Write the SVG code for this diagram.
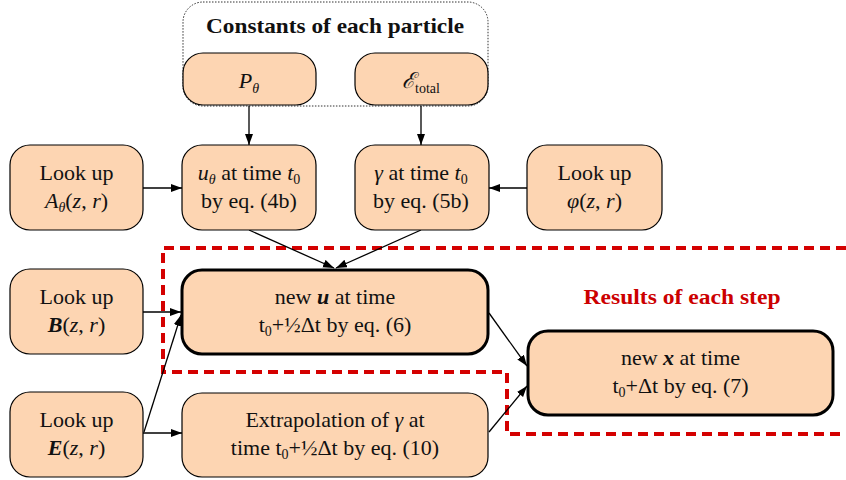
<svg xmlns="http://www.w3.org/2000/svg" width="846" height="480" viewBox="0 0 846 480">
<style>
.n{fill:#fdd5b2;stroke:#000;stroke-width:1.2}
.k{fill:#fdd5b2;stroke:#000;stroke-width:3}
text{font-family:"Liberation Serif","DejaVu Serif",serif;font-size:22px;fill:#111;text-anchor:middle}
.i{font-style:italic}
.bi{font-style:italic;font-weight:bold}
.s{font-size:14px}
.c{stroke:#000;stroke-width:1.3;fill:none;marker-end:url(#a)}
</style>
<defs>
<marker id="a" markerUnits="userSpaceOnUse" markerWidth="12" markerHeight="9" refX="11" refY="4" orient="auto">
<path d="M0,0 L11,4 L0,8 z" fill="#000"/>
</marker>
</defs>
<rect width="846" height="480" fill="#fff"/>
<g id="constants">
<rect x="183" y="2" width="305" height="104" rx="20" fill="none" stroke="#333" stroke-width="1" stroke-dasharray="1.5 1.5"/>
<text x="335" y="33" font-weight="bold" font-size="21" textLength="258" lengthAdjust="spacingAndGlyphs" style="font-size:21px">Constants of each particle</text>
</g>
<g id="results">
<path d="M846,248 H163 V372 H507 V434 H846" fill="none" stroke="#d40000" stroke-width="4" stroke-dasharray="10 6"/>
<text x="682" y="304" font-weight="bold" style="font-size:20px;fill:#cc0000" textLength="197" lengthAdjust="spacingAndGlyphs">Results of each step</text>
</g>
<g id="connectors">
<line class="c" x1="249" y1="106" x2="249" y2="145"/>
<line class="c" x1="421" y1="106" x2="421" y2="145"/>
<line class="c" x1="143" y1="188" x2="182" y2="188"/>
<line class="c" x1="527" y1="188" x2="489" y2="188"/>
<line class="c" x1="249" y1="230" x2="334" y2="268"/>
<line class="c" x1="421" y1="230" x2="336" y2="268"/>
<line class="c" x1="143" y1="312" x2="181" y2="312"/>
<line class="c" x1="144" y1="432" x2="181" y2="315"/>
<line class="c" x1="143" y1="433" x2="182" y2="433"/>
<line class="c" x1="489" y1="313" x2="527" y2="366"/>
<line class="c" x1="489" y1="432" x2="527" y2="386"/>
</g>
<g id="p_theta">
<rect class="n" x="183" y="53" width="133" height="52" rx="20"/>
<text x="249" y="88"><tspan class="i">P</tspan><tspan class="i s" dy="5">θ</tspan></text>
</g>
<g id="e_total">
<rect class="n" x="355" y="53" width="133" height="52" rx="20"/>
<text x="421" y="88"><tspan class="i">ℰ</tspan><tspan class="s" dy="5">total</tspan></text>
</g>
<g id="lookup_a">
<rect class="n" x="10" y="145" width="133" height="85" rx="20"/>
<text x="76.5" y="180">Look up</text>
<text x="76.5" y="208"><tspan class="i">A</tspan><tspan class="i s" dy="4">θ</tspan><tspan dy="-4">(</tspan><tspan class="i">z</tspan>, <tspan class="i">r</tspan>)</text>
</g>
<g id="u_theta">
<rect class="n" x="182" y="145" width="134" height="85" rx="20"/>
<text x="249" y="180"><tspan class="i">u</tspan><tspan class="i s" dy="4">θ</tspan><tspan dy="-4"> at time </tspan><tspan class="i">t</tspan><tspan class="s" dy="4">0</tspan></text>
<text x="249" y="208">by eq. (4b)</text>
</g>
<g id="gamma0">
<rect class="n" x="355" y="145" width="134" height="85" rx="20"/>
<text x="421" y="180"><tspan class="i">γ</tspan> at time <tspan class="i">t</tspan><tspan class="s" dy="4">0</tspan></text>
<text x="421" y="208">by eq. (5b)</text>
</g>
<g id="lookup_phi">
<rect class="n" x="527" y="145" width="135" height="85" rx="20"/>
<text x="594.5" y="180">Look up</text>
<text x="594.5" y="208"><tspan class="i">φ</tspan>(<tspan class="i">z</tspan>, <tspan class="i">r</tspan>)</text>
</g>
<g id="lookup_b">
<rect class="n" x="10" y="269" width="133" height="85" rx="20"/>
<text x="76.5" y="304">Look up</text>
<text x="76.5" y="332"><tspan class="bi">B</tspan>(<tspan class="i">z</tspan>, <tspan class="i">r</tspan>)</text>
</g>
<g id="new_u">
<rect class="k" x="182" y="270" width="306" height="84" rx="20"/>
<text x="335" y="304">new <tspan class="bi">u</tspan> at time</text>
<text x="335" y="332">t<tspan class="s" dy="4">0</tspan><tspan dy="-4">+½Δt by eq. (6)</tspan></text>
</g>
<g id="lookup_e">
<rect class="n" x="10" y="392" width="133" height="85" rx="20"/>
<text x="76.5" y="427">Look up</text>
<text x="76.5" y="455"><tspan class="bi">E</tspan>(<tspan class="i">z</tspan>, <tspan class="i">r</tspan>)</text>
</g>
<g id="extrapolation">
<rect class="n" x="182" y="393" width="306" height="84" rx="20"/>
<text x="335" y="427">Extrapolation of <tspan class="i">γ</tspan> at</text>
<text x="335" y="455">time t<tspan class="s" dy="4">0</tspan><tspan dy="-4">+½Δt by eq. (10)</tspan></text>
</g>
<g id="new_x">
<rect class="k" x="528" y="331" width="305" height="84" rx="20"/>
<text x="680.5" y="365">new <tspan class="bi">x</tspan> at time</text>
<text x="680.5" y="393">t<tspan class="s" dy="4">0</tspan><tspan dy="-4">+Δt by eq. (7)</tspan></text>
</g>
</svg>
